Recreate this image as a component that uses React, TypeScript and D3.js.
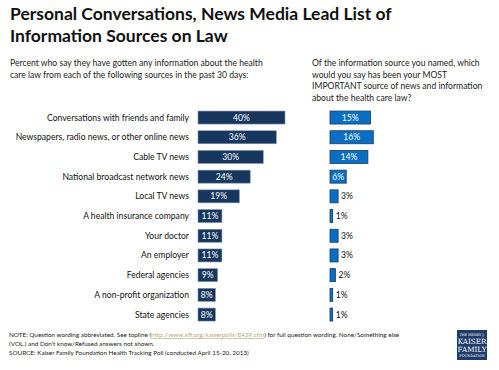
import React from "react";
import * as d3 from "d3";

const categories = [
  "Conversations with friends and family",
  "Newspapers, radio news, or other online news",
  "Cable TV news",
  "National broadcast network news",
  "Local TV news",
  "A health insurance company",
  "Your doctor",
  "An employer",
  "Federal agencies",
  "A non-profit organization",
  "State agencies",
];
const anySource = [40, 36, 30, 24, 19, 11, 11, 11, 9, 8, 8];
const mostImportant = [15, 16, 14, 6, 3, 1, 3, 3, 2, 1, 1];

const FONT = "Lato, 'Open Sans', sans-serif";

export default function App() {
  const W = 499, H = 370;
  const y = d3.scaleBand<string>().domain(categories).range([107.7, 324.4]).paddingInner(0.34).paddingOuter(0.17);
  const xL = d3.scaleLinear().domain([0, 40]).range([198, 285]);
  const xR = d3.scaleLinear().domain([0, 16]).range([330, 373.3]);
  const bw = y.bandwidth();

  return (
    <svg width={W} height={H} style={{ position: "absolute", left: 0, top: 0, background: "#fff" }} fontFamily={FONT}>
      <rect width={W} height={H} fill="#fff" />
      <text x={10} y={20} fontSize={17.5} fontWeight={700} fill="#111">Personal Conversations, News Media Lead List of</text>
      <text x={10} y={41.5} fontSize={17.5} fontWeight={700} fill="#111">Information Sources on Law</text>

      <g fontSize={8.6} fill="#222">
        <text x={10} y={66}>Percent who say they have gotten any information about the health</text>
        <text x={10} y={77.5}>care law from each of the following sources in the past 30 days:</text>
        <text x={312} y={66}>Of the information source you named, which</text>
        <text x={312} y={77.5}>would you say has been your MOST</text>
        <text x={312} y={89}>IMPORTANT source of news and information</text>
        <text x={312} y={100.5}>about the health care law?</text>
      </g>

      {categories.map((c, i) => {
        const yy = y(c)!;
        const cy = yy + bw / 2;
        const vR = mostImportant[i];
        const inside = vR >= 6;
        return (
          <g key={c}>
            <text x={189} y={cy} dy="0.35em" textAnchor="end" fontSize={8.6} fill="#111">{c}</text>
            <rect x={xL(0)} y={yy} width={xL(anySource[i]) - xL(0)} height={bw} fill="#17375E" stroke="#7f93ad" strokeWidth={0.6} />
            <text x={(xL(0) + xL(anySource[i])) / 2} y={cy} dy="0.35em" textAnchor="middle" fontSize={8.6} fill="#fff">{anySource[i]}%</text>
            <rect x={xR(0)} y={yy} width={xR(vR) - xR(0)} height={bw} fill="#0A6FC2" stroke="#1F3864" strokeWidth={0.8} />
            {inside ? (
              <text x={(xR(0) + xR(vR)) / 2} y={cy} dy="0.35em" textAnchor="middle" fontSize={8.6} fill="#fff">{vR}%</text>
            ) : (
              <text x={xR(vR) + 3} y={cy} dy="0.35em" textAnchor="start" fontSize={8.6} fill="#111">{vR}%</text>
            )}
          </g>
        );
      })}

      <g fontSize={6.35} fill="#222">
        <text x={9} y={337}>
          NOTE: Question wording abbreviated. See topline (
          <tspan fill="#b4a878" textDecoration="underline">http://www.kff.org/kaiserpolls/8439.cfm</tspan>
          ) for full question wording. None/Something else
        </text>
        <text x={9} y={346}>(VOL.) and Don’t know/Refused answers not shown.</text>
        <text x={9} y={355}>SOURCE: Kaiser Family Foundation Health Tracking Poll (conducted April 15-20, 2013)</text>
      </g>

      <g>
        <rect x={457} y={330} width={30} height={30} fill="#1F3D6B" />
        <g fill="#fff" fontFamily="'DejaVu Serif', 'Liberation Serif', serif" textAnchor="middle">
          <text x={472} y={336} fontSize={3.4}>THE HENRY J.</text>
          <text x={472} y={344} fontSize={7.2}>KAISER</text>
          <text x={472} y={351.5} fontSize={7.2}>FAMILY</text>
          <text x={472} y={357} fontSize={3.4}>FOUNDATION</text>
        </g>
      </g>
    </svg>
  );
}
